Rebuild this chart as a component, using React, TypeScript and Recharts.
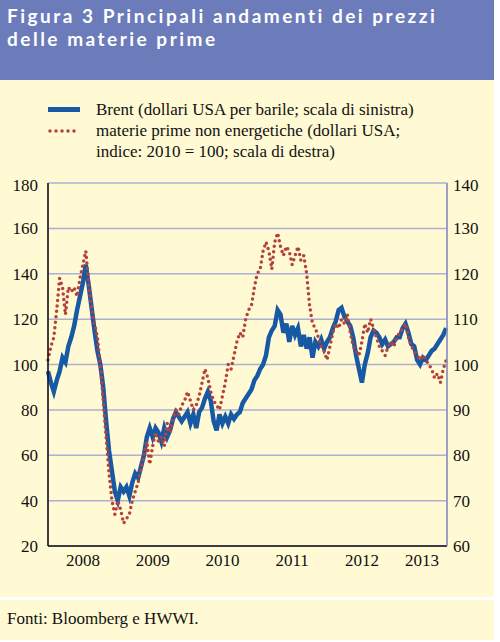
import { LineChart, Line, XAxis, YAxis, CartesianGrid } from "recharts";

// half-month observations starting January 2008
const brent = [
  97, 92, 88, 93, 97, 103, 101, 108, 112, 117, 124, 130, 136, 144, 135, 125, 115, 106, 100, 90, 75, 62, 53, 44,
  40, 46, 44, 46, 42, 48, 52, 50, 55, 60, 68, 72, 68, 72, 70, 66, 72, 68, 71, 76, 79, 77, 75, 77,
  79, 74, 78, 72, 79, 81, 85, 88, 84, 75, 71, 78, 74, 77, 74, 78, 76, 78, 79, 83, 85, 87, 89, 93,
  95, 98, 100, 104, 112, 115, 117, 124, 122, 114, 118, 110, 117, 113, 116, 108, 113, 107, 112, 103, 110, 108, 111, 107,
  110, 112, 116, 119, 124, 125, 121, 119, 117, 112, 104, 98, 92, 100, 105, 112, 115, 114, 112, 109, 111, 108, 109, 110,
  112, 112, 116, 118, 114, 109, 108, 102, 100, 103, 102, 104, 106, 107, 109, 111, 113, 116,
];

const nonEnergy = [
  101, 104, 106, 112, 119, 117, 111, 117, 116, 117, 115, 119, 122, 125, 118, 112, 109, 106, 100, 92, 84, 76, 70, 67,
  70, 68, 65, 66, 67, 70, 72, 74, 77, 80, 83, 78, 82, 85, 83, 84, 82, 87, 85, 88, 90, 89, 91, 92,
  94, 92, 90, 91, 93, 96, 99, 97, 94, 92, 91, 90, 93, 96, 100, 99, 102, 105, 107, 106, 110, 112, 113, 117,
  120, 121, 125, 127, 125, 121, 127, 129, 126, 124, 126, 125, 122, 124, 126, 123, 124, 120, 113, 109, 108, 106, 104, 103,
  101, 104, 107, 109, 108, 110, 109, 111, 107, 104, 103, 102, 105, 109, 107, 110, 108, 106, 104, 103, 102, 104, 105, 104,
  106, 107, 108, 109, 106, 104, 103, 102, 101, 102, 101, 100, 99, 97, 98, 96, 99, 101,
];

const yearStarts = [2008, 2009, 2010, 2011, 2012, 2013, 2013.72];
const yearLabelPos = [2008.5, 2009.5, 2010.5, 2011.5, 2012.5, 2013.36];
const leftTicks = [20, 40, 60, 80, 100, 120, 140, 160, 180];
const rightTicks = [60, 70, 80, 90, 100, 110, 120, 130, 140];

const data = brent.map((b, i) => ({ t: 2008 + i / 24, brent: b, nonEnergy: nonEnergy[i] }));

const CREAM = "#fffad3";
const serif = "Liberation Serif";
const titleStyle = {
  position: "absolute" as const, left: 7, color: "#fff", fontFamily: "Lato, sans-serif", fontWeight: 700,
  fontSize: 19, lineHeight: "22px", letterSpacing: 2.5, whiteSpace: "nowrap" as const,
};

export default function App() {
  return (
    <div style={{ position: "relative", width: 500, height: 642, background: "#fff", fontFamily: serif }}>
      <style>{"body{margin:0}"}</style>
      <div style={{ position: "absolute", left: 0, top: 0, width: 494, height: 80, background: "#6c7bb9" }}>
        <div style={{ ...titleStyle, top: 5 }}>Figura 3 Principali andamenti dei prezzi</div>
        <div style={{ ...titleStyle, top: 28 }}>delle materie prime</div>
      </div>
      <div style={{ position: "absolute", left: 0, top: 80, width: 494, height: 517, background: CREAM }} />
      <div style={{ position: "absolute", left: 0, top: 600, width: 494, height: 40, background: CREAM }}>
        <div style={{ position: "absolute", left: 7, top: 9, fontSize: 17, color: "#111" }}>Fonti: Bloomberg e HWWI.</div>
      </div>

      {/* legend */}
      <div style={{ position: "absolute", left: 0, top: 99, fontSize: 17, lineHeight: "21px", color: "#111" }}>
        <div style={{ position: "absolute", left: 48, top: 8, width: 32, height: 5, background: "#1859a6" }} />
        <svg style={{ position: "absolute", left: 46, top: 28 }} width={38} height={8}>
          <line x1={4} y1={4} x2={34} y2={4} stroke="#b3423a" strokeWidth={3.5} strokeLinecap="round" strokeDasharray="0 6" />
        </svg>
        <div style={{ position: "absolute", left: 96, top: 0, whiteSpace: "nowrap" }}>
          Brent (dollari USA per barile; scala di sinistra)<br />
          materie prime non energetiche (dollari USA;<br />
          indice: 2010 = 100; scala di destra)
        </div>
      </div>

      <div style={{ position: "absolute", left: 0, top: 175 }}>
        <LineChart width={494} height={410} data={data} margin={{ top: 8, right: 0, bottom: 9, left: 0 }}>
          <CartesianGrid xAxisId="b" yAxisId="left" stroke="#aeb0d2" strokeWidth={1.5} />
          <XAxis xAxisId="b" dataKey="t" type="number" domain={[2008, 2013.72]} ticks={yearStarts}
            height={0} tick={false} axisLine={false} tickSize={5} tickLine={{ stroke: "#111", strokeWidth: 1.5 }} />
          <XAxis xAxisId="lab" dataKey="t" type="number" domain={[2008, 2013.72]} ticks={yearLabelPos}
            height={30} tickLine={false} tickSize={0} tickMargin={8} axisLine={{ stroke: "#111", strokeWidth: 1.5 }}
            tickFormatter={(v: number) => String(Math.floor(v))}
            tick={{ fill: "#111", fontSize: 17, fontFamily: serif }} />
          <YAxis yAxisId="left" domain={[20, 180]} ticks={leftTicks} width={48} tickLine={false} tickSize={0}
            tickMargin={10} axisLine={{ stroke: "#111", strokeWidth: 1.5 }}
            tick={{ fill: "#111", fontSize: 17, fontFamily: serif }} />
          <YAxis yAxisId="right" orientation="right" domain={[60, 140]} ticks={rightTicks} width={47} tickLine={false}
            tickSize={0} tickMargin={6} axisLine={{ stroke: "#8f93bf", strokeWidth: 1.5 }}
            tick={{ fill: "#111", fontSize: 17, fontFamily: serif, textAnchor: "start" }} />
          <Line xAxisId="b" yAxisId="left" dataKey="brent" type="linear" stroke="#1859a6" strokeWidth={4.5}
            dot={false} isAnimationActive={false} />
          <Line xAxisId="b" yAxisId="right" dataKey="nonEnergy" type="linear" stroke="#b3423a" strokeWidth={3.5}
            strokeLinecap="round" strokeDasharray="0 5.5" dot={false} isAnimationActive={false} />
        </LineChart>
      </div>
    </div>
  );
}
